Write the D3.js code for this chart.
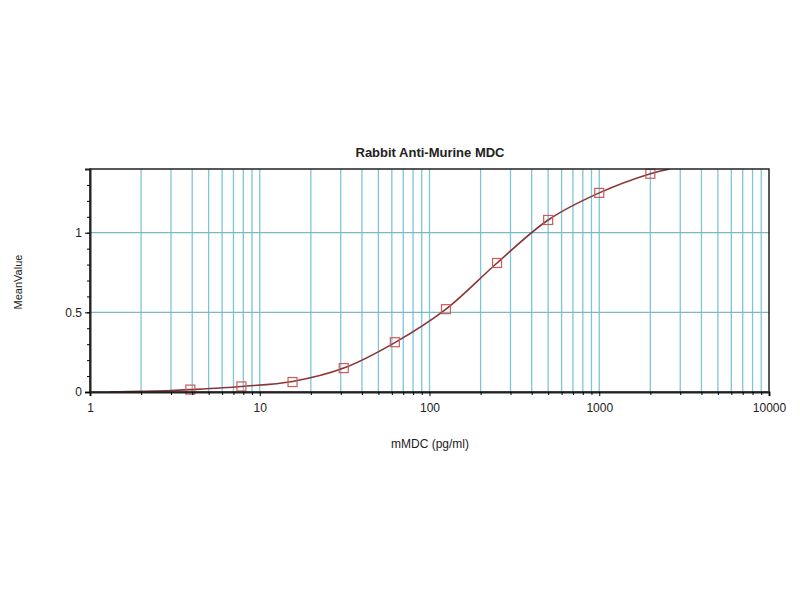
<!DOCTYPE html>
<html>
<head>
<meta charset="utf-8">
<script src="https://cdn.jsdelivr.net/npm/d3@7"></script>
<style>
  body { margin: 0; background: #fff; }
  text { font-family: "Liberation Sans", Arial, sans-serif; fill: #222; }
</style>
</head>
<body>
<svg id="chart" width="800" height="600"></svg>
<script>
// Data
const title = "Rabbit Anti-Murine MDC";
const xLabel = "mMDC (pg/ml)";
const yLabel = "MeanValue";
const concentrations = [3.9, 7.8, 15.6, 31.25, 62.5, 125, 250, 500, 1000, 2000];
const meanValues = [0.015, 0.035, 0.0625, 0.15, 0.3125, 0.52, 0.81, 1.08, 1.25, 1.37];
// fitted curve
const curveX = [1.3, 2, 3, 3.9, 7.8, 15.6, 31.25, 62.5, 125, 250, 500, 1000, 2000, 2600];
const curveY = [0.0, 0.004, 0.009, 0.015, 0.035, 0.066, 0.15, 0.31, 0.52, 0.81, 1.08, 1.25, 1.37, 1.40];
const xTickValues = [1, 10, 100, 1000, 10000];
const yTickValues = [0, 0.5, 1];

const svg = d3.select("#chart");
const m = { left: 90, right: 31, top: 169, bottom: 208 };
const W = 800, H = 600;
const x = d3.scaleLog().domain([1, 10000]).range([m.left, W - m.right]);
const y = d3.scaleLinear().domain([0, 1.4]).range([H - m.bottom, m.top]);

// minor log grid
const minor = [];
for (let d = 1; d < 10000; d *= 10) for (let k = 2; k <= 10; k++) minor.push(d * k);
const gridColor = "#7cc6d6";
svg.append("g").selectAll("line").data(minor.filter(v => v < 10000)).join("line")
  .attr("x1", d => x(d)).attr("x2", d => x(d))
  .attr("y1", y(0)).attr("y2", y(1.4))
  .attr("stroke", gridColor).attr("stroke-width", 1.3);
svg.append("g").selectAll("line").data([0.5, 1]).join("line")
  .attr("x1", x(1)).attr("x2", x(10000))
  .attr("y1", d => y(d)).attr("y2", d => y(d))
  .attr("stroke", "#7ab8c4").attr("stroke-width", 1.3);

// clip
svg.append("clipPath").attr("id", "clip").append("rect")
  .attr("x", x(1)).attr("y", y(1.4)).attr("width", x(10000) - x(1)).attr("height", y(0) - y(1.4));

// curve
const line = d3.line().x((d, i) => x(curveX[i])).y(d => y(d)).curve(d3.curveCatmullRom.alpha(0.5));
svg.append("path").attr("d", line(curveY)).attr("fill", "none")
  .attr("stroke", "#8a3535").attr("stroke-width", 1.6).attr("clip-path", "url(#clip)");

// markers
svg.append("g").selectAll("rect").data(meanValues).join("rect")
  .attr("x", (d, i) => x(concentrations[i]) - 4.5).attr("y", d => y(d) - 4.5)
  .attr("width", 9).attr("height", 9)
  .attr("fill", "none").attr("stroke", "#d05a5a").attr("stroke-width", 1.2);

// frame
svg.append("rect").attr("x", x(1)).attr("y", y(1.4))
  .attr("width", x(10000) - x(1)).attr("height", y(0) - y(1.4))
  .attr("fill", "none").attr("stroke", "#222").attr("stroke-width", 1.5);

// axes
const xAxis = d3.axisBottom(x).tickValues(xTickValues).tickFormat(d3.format("d")).tickSize(4).tickPadding(7);
const gx = svg.append("g").attr("transform", `translate(0,${y(0)})`).call(xAxis);
gx.select(".domain").attr("stroke", "#222").attr("stroke-width", 2);
gx.selectAll("text").attr("font-size", 12).attr("fill", "#222");
svg.append("g").attr("transform", `translate(0,${y(0)})`)
  .call(d3.axisBottom(x).tickValues(minor.filter(v => v < 10000 && ![10,100,1000].includes(v))).tickFormat("").tickSize(3))
  .call(g => g.select(".domain").remove());

const yAxis = d3.axisLeft(y).tickValues(yTickValues).tickFormat(d => d === 0.5 ? "0.5" : d3.format("d")(d)).tickSize(5).tickPadding(3);
const gy = svg.append("g").attr("transform", `translate(${x(1)},0)`).call(yAxis);
gy.select(".domain").attr("stroke", "#222").attr("stroke-width", 2);
gy.selectAll("text").attr("font-size", 12).attr("fill", "#222");
svg.append("g").attr("transform", `translate(${x(1)},0)`)
  .call(d3.axisLeft(y).tickValues(d3.range(0.1, 1.4, 0.1)).tickFormat("").tickSize(3))
  .call(g => g.select(".domain").remove());

// labels
svg.append("text").attr("x", 430).attr("y", 157).attr("text-anchor", "middle")
  .attr("font-size", 13).attr("font-weight", "bold").text(title);
svg.append("text").attr("x", 430).attr("y", 448).attr("text-anchor", "middle")
  .attr("font-size", 12).text(xLabel);
svg.append("text").attr("transform", "translate(22,282) rotate(-90)").attr("text-anchor", "middle")
  .attr("font-size", 11).text(yLabel);
</script>
</body>
</html>
